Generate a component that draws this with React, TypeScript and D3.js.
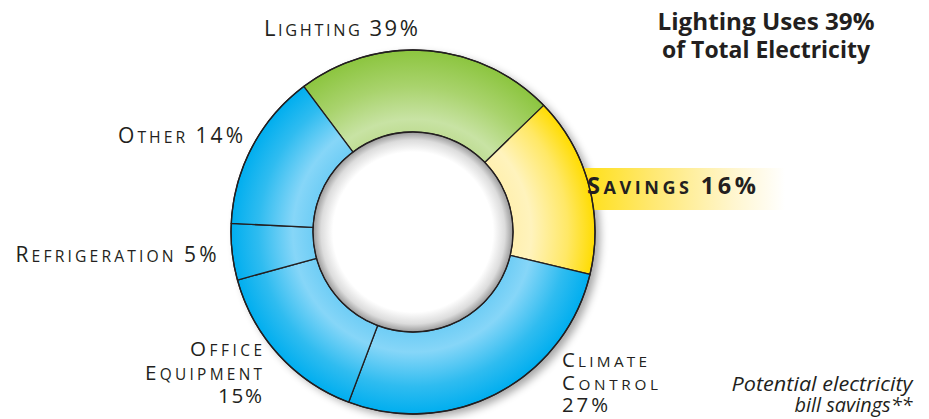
import React from "react";
import * as d3 from "d3";

// ---- data ----
const segments = ["Lighting", "Savings", "Climate Control", "Office Equipment", "Refrigeration", "Other"];
const values = [23, 16, 27, 15, 5, 14];
const segmentColor = ["green", "yellow", "blue", "blue", "blue", "blue"];
const titleLines = ["Lighting Uses 39%", "of Total Electricity"];
const lightingLabel = ["Lighting 39%"];
const otherLabel = ["Other 14%"];
const refrigerationLabel = ["Refrigeration 5%"];
const officeLabel = ["Office", "Equipment", "15%"];
const climateLabel = ["Climate", "Control", "27%"];
const savingsLabel = ["Savings 16%"];
const noteLines = ["Potential electricity", "bill savings**"];

const FONT = "'Open Sans', 'Noto Sans', sans-serif";
const INK = "#231f20";

type Run = { t: string; big: boolean };
function toRuns(text: string): Run[] {
  const runs: Run[] = [];
  text.split("").forEach((ch, i) => {
    const wordStart = i === 0 || text[i - 1] === " ";
    const big = ch !== " " && (wordStart || /[0-9%]/.test(ch));
    const last = runs[runs.length - 1];
    if (last && last.big === big) last.t += ch;
    else runs.push({ t: ch, big });
  });
  return runs;
}

function SmallCaps(props: {
  x: number; y: number; text: string; big: number; small: number;
  anchor?: string; width?: number; weight?: number;
}) {
  const { x, y, text, big, small, anchor = "start", width, weight = 400 } = props;
  return (
    <text
      x={x}
      y={y}
      textAnchor={anchor}
      fontFamily={FONT}
      fontWeight={weight}
      fill={INK}
      textLength={width}
      lengthAdjust="spacing"
      style={{ whiteSpace: "pre" }}
    >
      {toRuns(text).map((r, i) => (
        <tspan key={i} fontSize={r.big ? big : small}>
          {r.t.toUpperCase()}
        </tspan>
      ))}
    </text>
  );
}

export default function App() {
  const W = 929, H = 419;
  const cx = 413, cy = 232;
  const R = 182, r0 = 100;
  const start = (-36.9 * Math.PI) / 180;

  const pie = d3
    .pie<number>()
    .sort(null)
    .startAngle(start)
    .endAngle(start + 2 * Math.PI);
  const arcs = pie(values);
  const arc = d3.arc<d3.PieArcDatum<number>>().innerRadius(r0).outerRadius(R);

  const capBig = 21, capSmall = 15.7;

  return (
    <svg
      width={W}
      height={H}
      style={{ position: "absolute", left: 0, top: 0, background: "#fff" }}
    >
      <defs>
        <radialGradient id="rg-green" gradientUnits="userSpaceOnUse" cx={0} cy={0} r={R}>
          <stop offset={0.55} stopColor="#c0dd95" />
          <stop offset={0.62} stopColor="#c8e3a4" />
          <stop offset={0.8} stopColor="#a9d36d" />
          <stop offset={1} stopColor="#8cc53f" />
        </radialGradient>
        <radialGradient id="rg-blue" gradientUnits="userSpaceOnUse" cx={0} cy={0} r={R}>
          <stop offset={0.55} stopColor="#6fcdf5" />
          <stop offset={0.66} stopColor="#86d6f8" />
          <stop offset={0.85} stopColor="#2fbcf0" />
          <stop offset={1} stopColor="#00aeef" />
        </radialGradient>
        <radialGradient id="rg-yellow" gradientUnits="userSpaceOnUse" cx={0} cy={0} r={R}>
          <stop offset={0.55} stopColor="#fff0b0" />
          <stop offset={0.65} stopColor="#fff3bd" />
          <stop offset={0.85} stopColor="#ffe866" />
          <stop offset={1} stopColor="#ffdc00" />
        </radialGradient>
        <radialGradient id="rg-hole" gradientUnits="userSpaceOnUse" cx={0} cy={0} r={r0}>
          <stop offset={0} stopColor="#ffffff" />
          <stop offset={0.8} stopColor="#ffffff" />
          <stop offset={0.92} stopColor="#dcdcdc" />
          <stop offset={1} stopColor="#9a9a9a" />
        </radialGradient>
        <linearGradient id="lg-band" gradientUnits="userSpaceOnUse" x1={580} y1={0} x2={785} y2={0}>
          <stop offset={0} stopColor="#ffdf10" />
          <stop offset={0.35} stopColor="#ffe870" />
          <stop offset={0.75} stopColor="#fff6cf" />
          <stop offset={1} stopColor="#ffffff" />
        </linearGradient>
        <filter id="blur" x="-20%" y="-20%" width="140%" height="140%">
          <feGaussianBlur stdDeviation={4} />
        </filter>
      </defs>

      {/* shadow */}
      <circle cx={cx + 5} cy={cy + 4} r={R} fill="#000" opacity={0.35} filter="url(#blur)" />

      {/* savings band */}
      <rect x={560} y={168} width={225} height={42} fill="url(#lg-band)" />

      {/* ring */}
      <g transform={`translate(${cx},${cy})`}>
        {arcs.map((a, i) => (
          <path
            key={segments[i]}
            d={arc(a) || ""}
            fill={`url(#rg-${segmentColor[i]})`}
            stroke={INK}
            strokeWidth={1.3}
            strokeLinejoin="round"
          />
        ))}
        <circle cx={0} cy={0} r={r0 - 0.6} fill="url(#rg-hole)" />
        <circle cx={0} cy={0} r={r0} fill="none" stroke={INK} strokeWidth={1.3} />
        <circle cx={0} cy={0} r={R} fill="none" stroke={INK} strokeWidth={1.3} />
      </g>

      {/* title */}
      {titleLines.map((t, i) => (
        <text
          key={t}
          x={766}
          y={30 + i * 28.3}
          textAnchor="middle"
          fontFamily={FONT}
          fontWeight={700}
          fontSize={23}
          fill={INK}
          textLength={i === 0 ? 217 : 208}
          lengthAdjust="spacingAndGlyphs"
        >
          {t}
        </text>
      ))}

      {/* labels */}
      <SmallCaps x={264} y={36.3} text={lightingLabel[0]} big={capBig + 1} small={capSmall + 0.6} width={154} />
      <SmallCaps x={243} y={143.3} text={otherLabel[0]} big={capBig} small={capSmall} anchor="end" width={125} />
      <SmallCaps x={216.5} y={261.7} text={refrigerationLabel[0]} big={capBig} small={capSmall} anchor="end" width={201} />
      {officeLabel.map((t, i) => (
        <SmallCaps
          key={t}
          x={262}
          y={355.7 + i * 23.8}
          text={t}
          big={capBig - 0.4}
          small={capSmall - 0.3}
          anchor="end"
          width={[72, 117, 44][i]}
        />
      ))}
      {climateLabel.map((t, i) => (
        <SmallCaps
          key={t}
          x={562}
          y={367.3 + i * 22.2}
          text={t}
          big={capBig - 0.6}
          small={capSmall - 0.4}
          width={[85, 96, 46][i]}
        />
      ))}
      <SmallCaps x={587} y={194.3} text={savingsLabel[0]} big={23.5} small={18} weight={700} width={169} />

      {noteLines.map((t, i) => (
        <text
          key={t}
          x={912.5}
          y={391 + i * 21}
          textAnchor="end"
          fontFamily={FONT}
          fontStyle="italic"
          fontSize={20}
          fill={INK}
          textLength={i === 0 ? 181 : 118}
          lengthAdjust="spacingAndGlyphs"
        >
          {t}
        </text>
      ))}
    </svg>
  );
}
